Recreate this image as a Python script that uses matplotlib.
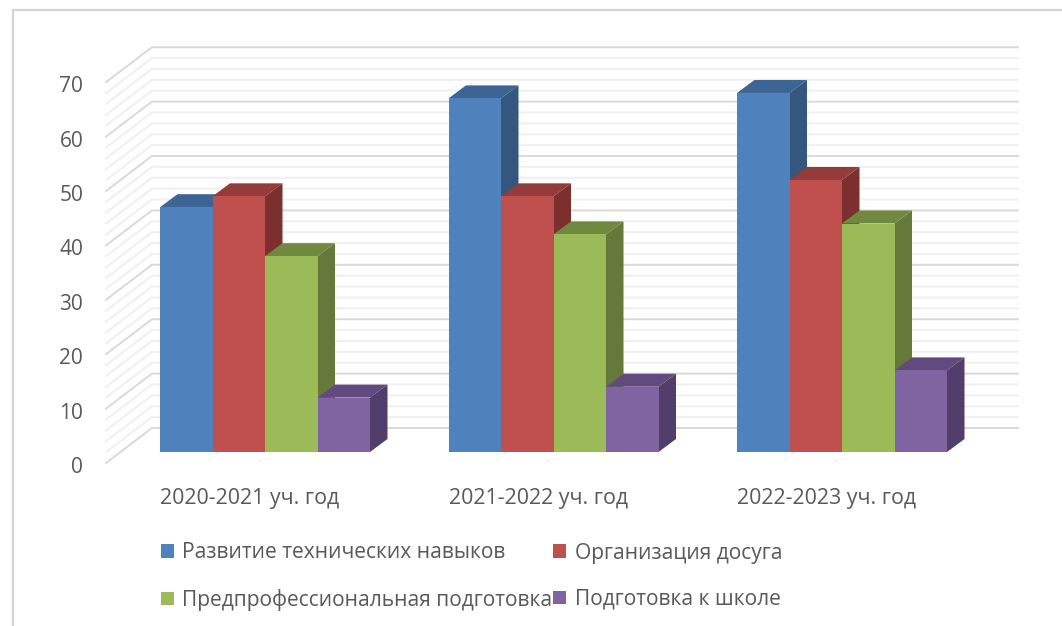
import matplotlib
matplotlib.use("Agg")
import matplotlib.pyplot as plt
from matplotlib.lines import Line2D
from matplotlib.transforms import ScaledTranslation

years = ["2020-2021 уч. год", "2021-2022 уч. год", "2022-2023 уч. год"]
series_names = ["Развитие технических навыков", "Организация досуга",
                "Предпрофессиональная подготовка", "Подготовка к школе"]
tech = [45, 65, 66]
leisure = [47, 47, 50]
preprof = [36, 40, 42]
school = [10, 12, 15]
y_ticks = [0, 10, 20, 30, 40, 50, 60, 70]

front_colors = ["#4F81BD", "#C0504D", "#9BBB59", "#8064A2"]
top_colors = ["#3C6494", "#943C3A", "#6F8A3E", "#614A7E"]
side_colors = ["#34577F", "#7C302E", "#65793A", "#513E6A"]
text_color = "#595959"
font = "Open Sans"

W, H = 1062, 626
fig = plt.figure(figsize=(W / 100, H / 100), dpi=100)
# axes = front plane of the bars, y=0 at pixel 452, 5.44 px per unit, 288.5 px per group
ax = fig.add_axes([120.75 / W, 1 - 452 / H, 865.5 / W, 380.8 / H])
ax.set_xlim(-0.5, 2.5)
ax.set_ylim(0, 70)
for s in ax.spines.values():
    s.set_visible(False)
ax.patch.set_visible(False)

# chart frame, runs off the picture at right and bottom
fig.add_artist(Line2D([13 / W, 13 / W, 1], [0, 1 - 10 / H, 1 - 10 / H], color="#d4d4d4", lw=1.6))

# walls with gridlines every 2 units
wall_front_x, wall_back_x, wall_right_x = -0.551, -0.392, 2.61
wall_front_dy, wall_back_dy = -2.02, 4.41
for v in range(0, 71, 2):
    major = v % 10 == 0
    c = "#d9d9d9" if major else "#f0f0f0"
    ax.plot([wall_front_x, wall_back_x, wall_right_x],
            [v + wall_front_dy, v + wall_back_dy, v + wall_back_dy],
            color=c, lw=1.4, clip_on=False, zorder=1)

# bars with oblique depth
bar_w = 52.5 / 288.5
depth_x = 17.5 / 288.5
depth_y = 13 / 5.44
containers = []
for i, vals in enumerate([tech, leisure, preprof, school]):
    z = 2 + i
    for g, v in enumerate(vals):
        x0 = g + (i - 2) * bar_w
        x1 = x0 + bar_w
        ax.fill([x0, x1, x1 + depth_x, x0 + depth_x], [v, v, v + depth_y, v + depth_y],
                color=top_colors[i], lw=0, clip_on=False, zorder=z)
        ax.fill([x1, x1 + depth_x, x1 + depth_x, x1], [0, depth_y, v + depth_y, v],
                color=side_colors[i], lw=0, clip_on=False, zorder=z)
    xs = [g + (i - 1.5) * bar_w for g in range(len(vals))]
    containers.append(ax.bar(xs, vals, bar_w, color=front_colors[i], label=series_names[i],
                             zorder=z + 0.5))

# tick labels
ax.set_yticks(y_ticks)
ax.set_xticks(range(3))
ax.set_xticklabels(years)
ax.tick_params(length=0, colors=text_color)
ax.tick_params(axis="y", pad=27, labelsize=15)
ax.tick_params(axis="x", pad=26, labelsize=15.4)
for t in ax.get_yticklabels():
    t.set_fontfamily(font)
    t.set_transform(t.get_transform() + ScaledTranslation(0, -13 / 100, fig.dpi_scale_trans))
for t in ax.get_xticklabels():
    t.set_fontfamily(font)
    t.set_transform(t.get_transform() + ScaledTranslation(-15 / 100, 0, fig.dpi_scale_trans))

# legend fills column by column, so blue/green first, then red/purple
order = [0, 2, 1, 3]
ax.legend([containers[i][0] for i in order], [series_names[i] for i in order],
          ncol=2, frameon=False, loc="upper left",
          bbox_to_anchor=(161 / W, 1 - 542.5 / H), bbox_transform=fig.transFigure,
          prop={"family": font, "size": 15.15}, labelcolor=text_color,
          handlelength=0.62, handleheight=0.62, handletextpad=0.39,
          columnspacing=0.05, labelspacing=1.2, borderpad=0, borderaxespad=0)

fig.savefig("out.png", dpi=100)
